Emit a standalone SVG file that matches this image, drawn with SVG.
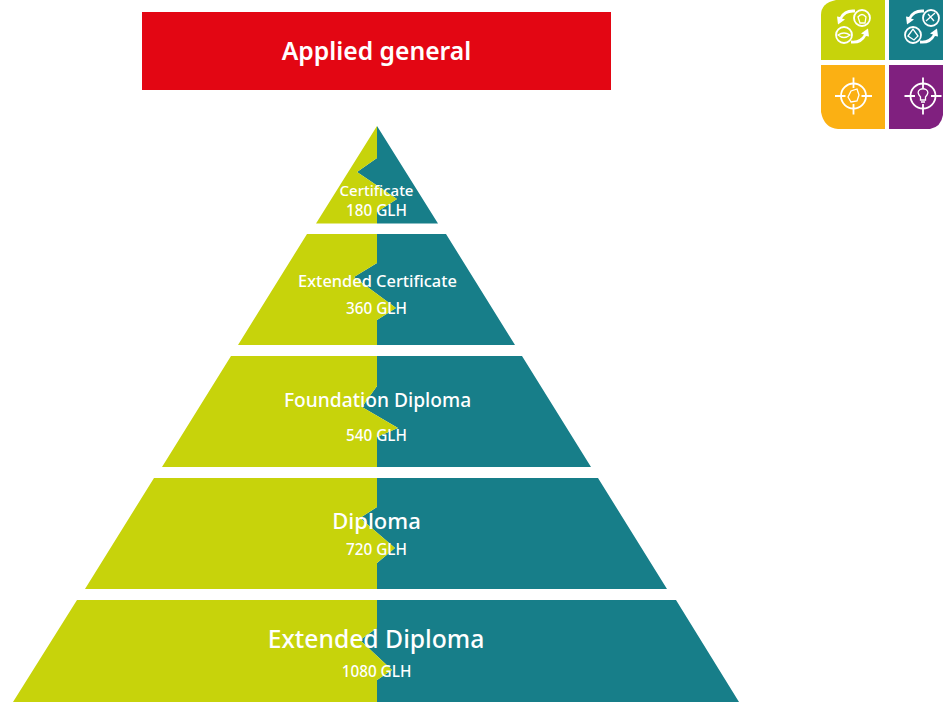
<svg xmlns="http://www.w3.org/2000/svg" width="943" height="702" viewBox="0 0 943 702">
<style>
.g{fill:#c7d30b}.t{fill:#177e89}
text{font-family:"Noto Sans","Liberation Sans",sans-serif;fill:#fff;text-anchor:middle;font-weight:500}
.ic{fill:none;stroke:#fff;stroke-width:1.8}
.in{fill:none;stroke:#fff;stroke-width:1.3}
.ia{fill:#fff;stroke:none}
</style>
<defs>
<g id="target"><circle class="ic" r="12.500"/><path class="ic" d="M-18.500 0H-8M8 0H18.500M0-18.500V-8M0 8V18.500"/></g>
<g id="cycle"><circle class="ic" cx="9" cy="-8.500" r="8"/><circle class="ic" cx="-9" cy="8.500" r="8"/><path class="ia" d="M2-14Q-7-15-11-8L-8-7-15-2-16-10-13-9.500Q-9-18 2-17ZM-2 14Q7 15 11 8L8 7 15 2 16 10 13 9.500Q9 18-2 17Z"/></g>
</defs>
<rect id="header" x="142" y="12" width="469" height="78" fill="#e30613"/>
<text x="376.500" y="60" font-size="24.700" style="font-weight:600">Applied general</text>
<g id="tier-certificate">
<path class="t" d="M377 126L438 223.500H377V212L397 199L357 172L377 158Z"/>
<path class="g" d="M377 126L316 223.500H377V212L397 199L357 172L377 158Z"/>
<text x="376.500" y="196" font-size="15">Certificate</text>
<text x="376.500" y="215.500" font-size="15.300">180 GLH</text>
</g>
<g id="tier-extended-certificate">
<path class="t" d="M307 234H446L515 345H377V320L396 308L354 277L377 263V234Z"/>
<path class="g" d="M307 234H377V263L354 277L396 308L377 320V345H238Z"/>
<text x="377.500" y="287" font-size="16.400">Extended Certificate</text>
<text x="376.500" y="313.500" font-size="15.300">360 GLH</text>
</g>
<g id="tier-foundation-diploma">
<path class="t" d="M377 356H522L591 467H377V437L398 428L362 407L377 386Z"/>
<path class="g" d="M231 356H377V386L362 407L398 428L377 437V467H162Z"/>
<text x="377.500" y="406.500" font-size="19.200">Foundation Diploma</text>
<text x="376.500" y="440.500" font-size="15.300">540 GLH</text>
</g>
<g id="tier-diploma">
<path class="t" d="M377 478H598L667 589H377V563L395 548L360 518L377 507Z"/>
<path class="g" d="M154 478H377V507L360 518L395 548L377 563V589H85Z"/>
<text x="376.500" y="528.500" font-size="22">Diploma</text>
<text x="376.500" y="554.500" font-size="15.300">720 GLH</text>
</g>
<g id="tier-extended-diploma">
<path class="t" d="M377 600H676L739 702H377V680L392 670L360 640L377 628Z"/>
<path class="g" d="M77 600H377V628L360 640L392 670L377 680V702H13Z"/>
<text x="376" y="647.500" font-size="24.700">Extended Diploma</text>
<text x="376.500" y="676.500" font-size="15.300">1080 GLH</text>
</g>
<g id="icon-green"><path fill="#c7d30b" d="M836 0H885V60H821V15Q821 3 836 0Z"/><use href="#cycle" x="853" y="26.500"/><path class="in" d="M858 17Q862 12 866 17L865 23H860ZM838 35Q844 31 850 35Q844 40 838 35Z"/></g>
<g id="icon-teal"><path fill="#177e89" d="M889 0H943V60H889Z"/><use href="#cycle" x="922" y="26.500"/><path class="in" d="M926 21L935 13M928 14L934 21M908 36L913 29L918 36L914 40Z"/></g>
<g id="icon-orange"><path fill="#fbb013" d="M821 65H885V129H838Q824 128 821 112Z"/><use href="#target" x="853.500" y="96"/><path class="in" d="M848 97L851 91L857 89L859 95L857 101L851 102Z"/></g>
<g id="icon-purple"><path fill="#80207f" d="M889 65H943V115Q941 127 930 129H889Z"/><use href="#target" x="923" y="96"/><path class="in" d="M920.500 100V97Q916 92 920 89.500Q923 88 926 89.500Q930 92 925.500 97V100ZM921 102H925"/></g>
</svg>
